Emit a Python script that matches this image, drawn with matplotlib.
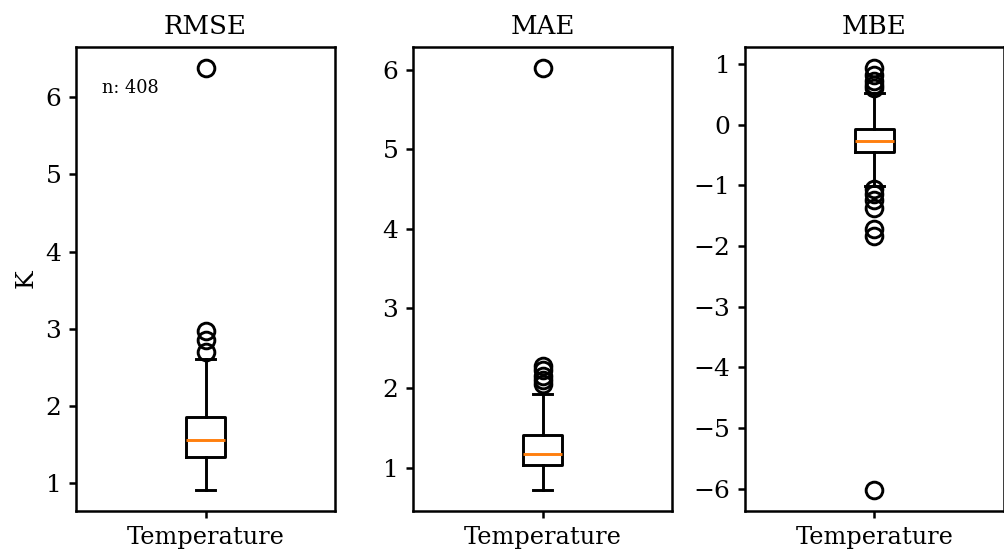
import matplotlib
matplotlib.use("Agg")
import matplotlib.pyplot as plt

plt.rcParams['font.family'] = ['DejaVu Serif']
plt.rcParams['axes.linewidth'] = 1.2
plt.rcParams['xtick.major.width'] = 1.2
plt.rcParams['ytick.major.width'] = 1.2
plt.rcParams['xtick.labelsize'] = 11.5
plt.rcParams['ytick.labelsize'] = 12

metrics = ['RMSE', 'MAE', 'MBE']
category = 'Temperature'
n_samples = 408

# box statistics (K)
q1 = [1.34, 1.03, -0.45]
med = [1.56, 1.17, -0.27]
q3 = [1.86, 1.41, -0.07]
whislo = [0.91, 0.72, -1.02]
whishi = [2.61, 1.93, 0.52]
fliers = [
    [2.70, 2.85, 2.97, 6.38],
    [2.05, 2.10, 2.15, 2.22, 2.28, 6.02],
    [0.60, 0.65, 0.72, 0.82, 0.93,
     -1.07, -1.15, -1.25, -1.37, -1.72, -1.84, -6.02],
]

fig = plt.figure(figsize=(1004 / 150, 556 / 150), dpi=150)
lefts = [0.0757, 0.4114, 0.742]
width = 0.258
bottom, top = 0.081, 0.9155

lw = 1.4
for i, name in enumerate(metrics):
    ax = fig.add_axes([lefts[i], bottom, width, top - bottom])
    stats = [dict(med=med[i], q1=q1[i], q3=q3[i], whislo=whislo[i],
                  whishi=whishi[i], fliers=fliers[i], label=category)]
    ax.bxp(stats, widths=0.15,
           boxprops=dict(linewidth=lw),
           whiskerprops=dict(linewidth=lw),
           capprops=dict(linewidth=lw),
           medianprops=dict(linewidth=lw, color='#ff7f0e'),
           flierprops=dict(marker='o', markersize=8, markeredgewidth=1.4,
                           markerfacecolor='none'))
    ax.set_title(name, fontsize=12.5)
    if i == 0:
        ax.set_ylabel('K', fontsize=12)
        ax.text(0.1, 0.9, f'n: {n_samples}', transform=ax.transAxes,
                fontsize=8.5, ha='left', va='baseline')

fig.savefig('out.png', dpi=150)
